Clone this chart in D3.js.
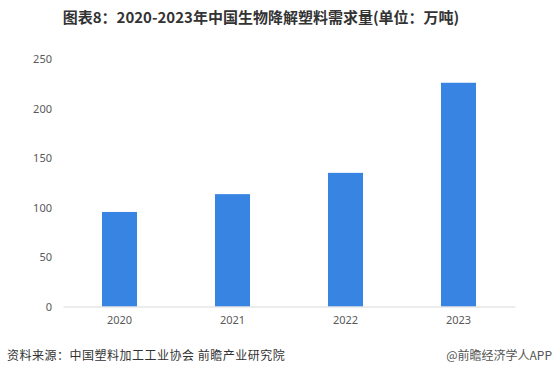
<!DOCTYPE html>
<html lang="zh">
<head>
<meta charset="utf-8">
<script src="https://d3js.org/d3.v7.min.js"></script>
<style>
  body { margin: 0; background: #fff; }
  svg { display: block; font-family: "Noto Sans CJK SC", "Noto Sans", sans-serif; }
</style>
</head>
<body>
<svg id="chart"></svg>
<script>
    const years = ["2020", "2021", "2022", "2023"];
    const demand = [95.5, 113.5, 135, 226];
    const yTicks = [0, 50, 100, 150, 200, 250];

    const width = 556, height = 383;
    const svg = d3.select("#chart").attr("width", width).attr("height", height);

    let x = d3.scaleBand()
        .domain(years)
        .range([63, 515])
        .paddingInner(0.69)
        .paddingOuter(0.345);

    let y = d3.scaleLinear()
        .domain([0, 250])
        .range([306.5, 59]);

    // bars
    svg.append("g").selectAll("rect")
        .data(years)
        .enter().append("rect")
            .attr("x", d => x(d))
            .attr("width", x.bandwidth())
            .attr("y", (d, i) => y(demand[i]))
            .attr("height", (d, i) => y(0) - y(demand[i]))
            .attr("fill", "#3884e3");

    // y axis labels
    let yAxis = svg.append("g")
        .attr("transform", "translate(52,0)")
        .call(d3.axisLeft(y).tickValues(yTicks).tickSize(0).tickPadding(0));
    yAxis.select(".domain").remove();
    yAxis.selectAll("text").attr("font-size", 11).attr("fill", "#595959")
        .attr("font-family", "'Noto Sans', sans-serif");

    // x axis
    let xAxis = svg.append("g")
        .attr("transform", `translate(0,${y(0)})`)
        .call(d3.axisBottom(x).tickSize(0).tickPadding(10));
    xAxis.select(".domain").attr("stroke", "#d9d9d9");
    xAxis.selectAll("text").attr("font-size", 11).attr("fill", "#595959")
        .attr("font-family", "'Noto Sans', sans-serif");

    // title
    svg.append("text")
        .attr("x", 261).attr("y", 23)
        .attr("text-anchor", "middle")
        .attr("font-size", 15)
        .attr("font-weight", "bold")
        .attr("fill", "#333")
        .text("图表8：2020-2023年中国生物降解塑料需求量(单位：万吨)");

    // footer
    svg.append("text")
        .attr("x", 7).attr("y", 360)
        .attr("font-size", 12)
        .attr("letter-spacing", 0.5)
        .attr("fill", "#333")
        .text("资料来源：中国塑料加工工业协会 前瞻产业研究院");
    svg.append("text")
        .attr("x", 552).attr("y", 360)
        .attr("text-anchor", "end")
        .attr("font-size", 12)
        .attr("fill", "#555")
        .text("@前瞻经济学人APP");
</script>
</body>
</html>
